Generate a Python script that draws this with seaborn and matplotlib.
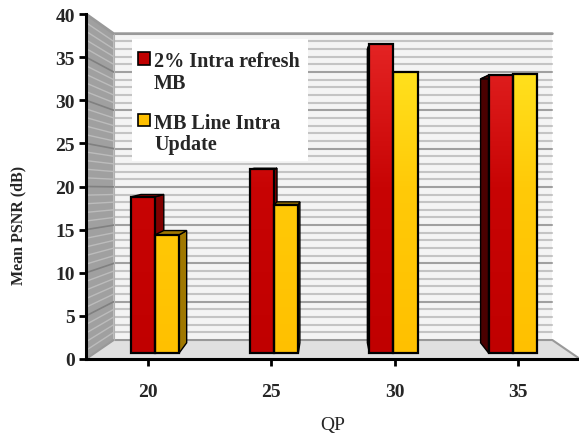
import numpy as np
import pandas as pd
import matplotlib
matplotlib.use('Agg')
import matplotlib.pyplot as plt
import seaborn as sns
from matplotlib.colors import LinearSegmentedColormap
from matplotlib.patches import Patch, Polygon, Rectangle

# values
qp = ['20', '25', '30', '35']
intra_refresh = [18.8, 22.0, 36.5, 32.9]
line_update = [14.4, 17.9, 33.3, 33.0]
series_names = ['2% Intra refresh\nMB', 'MB Line Intra\nUpdate']
yticks = [0, 5, 10, 15, 20, 25, 30, 35, 40]

df = pd.DataFrame({
    'QP': qp * 2,
    'psnr': intra_refresh + line_update,
    'series': [series_names[0]] * 4 + [series_names[1]] * 4,
})

sns.set_style('white')
plt.rcParams['font.family'] = ['Liberation Serif', 'DejaVu Serif']
plt.rcParams['font.weight'] = 'bold'

W, H = 579, 439
fig = plt.figure(figsize=(W / 100, H / 100), dpi=100)
ax = fig.add_axes([86 / W, (H - 360) / H, 494 / W, 345 / H])

palette = {series_names[0]: '#c00000', series_names[1]: '#ffc000'}
sns.barplot(data=df, x='QP', y='psnr', hue='series', palette=palette, width=0.39,
            gap=0, dodge=True, legend=False, ax=ax, edgecolor='black', linewidth=1.6)
ax.set_xlim(-0.5, 3.5)
ax.set_ylim(0, 40)

# fake 3D box: the back wall is the front plane scaled towards a point
bx0, bx1 = -0.276, 3.276
def back_y(v):
    return 2.2 + 0.888 * v

ax.add_patch(Polygon([(-0.5, 0), (bx0, back_y(0)), (bx0, back_y(40)), (-0.5, 40)],
                     fc='#a0a0a0', ec='none', zorder=0.5))
ax.add_patch(Polygon([(bx0, back_y(0)), (bx1, back_y(0)), (bx1, back_y(40)), (bx0, back_y(40))],
                     fc='#f4f4f4', ec='none', zorder=0.5))
ax.add_patch(Polygon([(-0.5, 0), (3.5, 0), (bx1, back_y(0)), (bx0, back_y(0))],
                     fc='#e0e0e0', ec='none', zorder=0.6))
for v in np.arange(1, 40):
    major = v % 5 == 0
    ax.plot([bx0, bx1], [back_y(v), back_y(v)], color='#a0a0a0' if major else '#c4c4c4',
            lw=1.5, zorder=0.7)
    ax.plot([-0.5, bx0], [v, back_y(v)], color='#808080' if major else '#bcbcbc',
            lw=1.2 if major else 1.0, zorder=0.7)
ax.plot([-0.5, bx0, bx1], [40, back_y(40), back_y(40)], color='#999999', lw=2, zorder=0.8)
ax.plot([-0.5, bx0, bx1, 3.5], [0, back_y(0), back_y(0), 0], color='#999999', lw=1.5, zorder=0.8)
ax.plot([bx0, bx0], [back_y(0), back_y(40)], color='#b0b0b0', lw=0.8, zorder=0.8)

# bars sit forward of the wall, on the floor, with perspective shift
base = 0.7
squeeze = 0.965
r = 0.95
vx, vy = 1.47, 24.3
red_cm = LinearSegmentedColormap.from_list('r', [(0, '#c00000'), (0.5, '#c80404'), (1, '#ea2a2a')])
yel_cm = LinearSegmentedColormap.from_list('y', [(0, '#ffc000'), (0.5, '#ffca08'), (1, '#ffec28')])
grad = np.linspace(0, 1, 256).reshape(-1, 1)

bars = [p for p in ax.patches if not isinstance(p, Polygon)]
side_cols = ['#800000', '#a07800']
dark_left = ['#4a0000', '#a07800']


def bk(x, y):
    return (x * r + vx * (1 - r), y * r + vy * (1 - r))


for i, p in enumerate(bars):
    s = i // 4
    cx = p.get_x() + p.get_width() / 2
    group = np.round(cx)
    top = p.get_height()
    shift = (group - vx) * (squeeze - 1) + 0.008
    p.set_x(p.get_x() + shift)
    p.set_y(base)
    p.set_height(top - base)
    p.set_zorder(5)
    x0, x1 = p.get_x(), p.get_x() + p.get_width()

    right_side = x1 < vx
    xs = x1 if right_side else x0
    col = side_cols[s] if right_side else dark_left[s]
    ax.add_patch(Polygon([(xs, base), (xs, top), bk(xs, top), bk(xs, base)], fc=col, ec='black', lw=1.0, zorder=2))
    ax.add_patch(Polygon([(x0, top), (x1, top), bk(x1, top), bk(x0, top)], fc=col, ec='black', lw=1.0, zorder=2))

    im = ax.imshow(grad, extent=(x0, x1, 0, 40), origin='lower', aspect='auto',
                   cmap=red_cm if s == 0 else yel_cm, zorder=3)
    im.set_clip_path(p)
    p.set_facecolor('none')

ax.set_xlim(-0.5, 3.5)
ax.set_ylim(0, 40)

sns.despine(ax=ax)
for side in ['left', 'bottom']:
    ax.spines[side].set_linewidth(2.2)
    ax.spines[side].set_color('black')
    ax.spines[side].set_zorder(6)
ax.set_yticks(yticks)
ax.tick_params(axis='y', length=5, width=2, color='black', left=True, labelsize=14, pad=3)
ax.tick_params(axis='x', length=5, width=2, color='black', bottom=True, labelsize=14, pad=12)
ax.set_xlabel('QP', fontsize=14, fontweight='normal', labelpad=12)
ax.set_ylabel('Mean PSNR (dB)', fontsize=11.5, fontweight='bold')
ax.yaxis.set_label_coords(-0.12, 0.39)

# white panel behind the legend, taller than the legend's own padding allows
ax.add_patch(Rectangle((46 / 494, 1 - 147 / 345), 176 / 494, 122 / 345, transform=ax.transAxes,
                       fc='white', ec='none', zorder=3.9))
handles = [Patch(fc='#c00000', ec='black', lw=1.2), Patch(fc='#ffc000', ec='black', lw=1.2)]
leg = ax.legend(handles, series_names, loc='upper left', bbox_to_anchor=(46 / 494, 1 - 31 / 345),
                frameon=False, labelspacing=1.0, handlelength=0.6, handleheight=0.6, handletextpad=0.2,
                borderpad=0.3, borderaxespad=0, prop={'weight': 'bold', 'size': 14.5})
leg.set_zorder(4)
for t in leg.get_texts():
    t.set_linespacing(1.1)
# swatch lines up with the first line of its label
for h in leg.legend_handles:
    h.set_y(h.get_y() + 10)

fig.savefig('out.png', dpi=100)
